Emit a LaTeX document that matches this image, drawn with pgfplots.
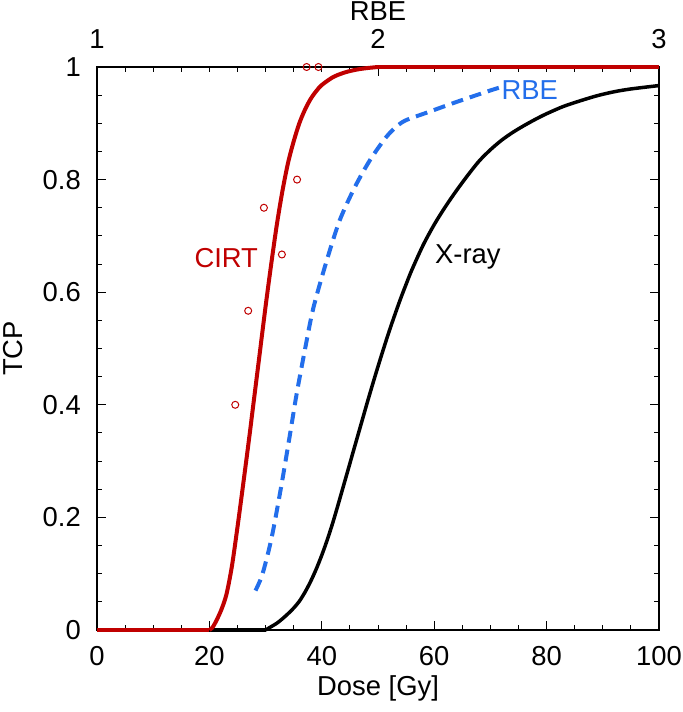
\documentclass[border=0pt]{standalone}
\usepackage{fontspec}
\setmainfont{Liberation Sans}
\usepackage{pgfplots}
\pgfplotsset{compat=1.18}
\definecolor{cirt}{RGB}{192,0,0}
\definecolor{rbe}{RGB}{35,110,235}
\pgfplotsset{
  common/.style={
    scale only axis, width=562bp, height=563bp,
    xmin=0, xmax=100, ymin=0, ymax=1,
    tick align=inside, major tick length=9bp, minor tick length=5bp,
    axis line style={line width=1.5bp, -},
    every tick/.style={black, line width=1bp},
    font=\fontsize{27.5}{32}\selectfont,
  }
}
\begin{document}
\begin{tikzpicture}
\useasboundingbox (-97bp,-82bp) rectangle (586bp,630bp);
% top RBE axis
\begin{axis}[common,
  axis x line*=top, axis y line=none,
  every outer x axis line/.append style={-},
  x axis line style={-},
  xtick={0,50,100}, xticklabels={1,2,3},
  minor xtick={5,10,15,20,25,30,35,40,45,55,60,65,70,75,80,85,90,95},
  xticklabel style={anchor=south, inner sep=0pt, yshift=18bp},
  xlabel={RBE},
  xlabel style={at={(axis description cs:0.5,1.0986)}, anchor=center, inner sep=0pt},
]
\end{axis}
% main axis
\begin{axis}[common,
  clip=false,
  xtick={0,20,40,60,80,100}, xticklabels={0,20,40,60,80,100},
  minor x tick num=3, xtick pos=bottom,
  ytick={0,0.2,0.4,0.6,0.8,1}, yticklabels={0,0.2,0.4,0.6,0.8,1},
  minor y tick num=3,
  xticklabel style={anchor=north, inner sep=0pt, yshift=-16bp},
  yticklabel style={anchor=east, inner sep=0pt, xshift=-16bp},
  xlabel={Dose [Gy]}, ylabel={TCP},
  xlabel style={at={(axis description cs:0.5,-0.103)}, anchor=center, inner sep=0pt},
  ylabel style={at={(axis description cs:-0.150,0.5)}, anchor=center, rotate=0, inner sep=0pt},
]
% X-ray
\addplot[black, line width=3.5bp] coordinates {(0,0) (30,0)};
\addplot[black, line width=3.5bp, smooth, tension=0.5] coordinates {
(30,0) (31,0.006) (32,0.012) (33,0.02) (34,0.029) (35,0.039) (36,0.051)
(37,0.067) (38,0.086) (39,0.108) (40,0.133) (41,0.161) (42,0.192) (43,0.226)
(44,0.261) (45,0.296) (46,0.331) (47,0.366) (48,0.401) (49,0.435) (50,0.468)
(51,0.5) (52,0.531) (53,0.56) (54,0.588) (55,0.614) (56,0.639) (58,0.683)
(60,0.72) (62,0.752) (64,0.781) (66,0.808) (68,0.833) (70,0.853) (72,0.87)
(74,0.884) (76,0.896) (78,0.907) (80,0.917) (83,0.93) (86,0.94) (89,0.949)
(92,0.956) (95,0.961) (100,0.967)
};
% RBE
\addplot[rbe, line width=4bp, dash pattern=on 12bp off 7bp, smooth, tension=0.5] coordinates {
(28.2,0.07) (29.3,0.095) (30.4,0.135) (31.4,0.18) (32.9,0.262) (34.3,0.345)
(35.5,0.418) (37.0,0.498) (38.5,0.572) (40.9,0.657) (43.2,0.728) (45.9,0.787)
(48.6,0.835) (51.5,0.876) (53.5,0.896) (55.1,0.906) (58.7,0.919) (64.0,0.938)
(69.9,0.958) (71.5,0.963)
};
% CIRT
\addplot[cirt, line width=4bp] coordinates {(0,0) (20,0)};
\addplot[cirt, line width=4bp, smooth, tension=0.5] coordinates {
(20,0) (20.5,0.004) (21,0.012) (22,0.033) (23,0.062) (24,0.113) (25,0.183)
(26,0.258) (27,0.335) (28,0.415) (29,0.495) (30,0.575) (31,0.65) (32,0.72)
(33,0.78) (34,0.83) (35,0.868) (36,0.9) (37,0.924) (38,0.943) (39,0.957)
(40,0.968) (42,0.982) (44,0.99) (46,0.995) (48,0.998) (50,1)
};
\addplot[cirt, line width=4bp] coordinates {(50,1) (100,1)};
\addplot[cirt, only marks, mark=o, mark size=3.5bp, mark options={line width=1bp}] coordinates {
(24.6,0.40) (26.9,0.567) (29.7,0.75) (32.9,0.667) (35.6,0.80) (37.3,1) (39.4,1)
};
\node[cirt, inner sep=0pt] at (axis cs:23,0.661) {CIRT};
\node[black, inner sep=0pt] at (axis cs:66,0.662) {X-ray};
\node[rbe, inner sep=0pt] at (axis cs:77,0.959) {RBE};
\end{axis}
\end{tikzpicture}
\end{document}
